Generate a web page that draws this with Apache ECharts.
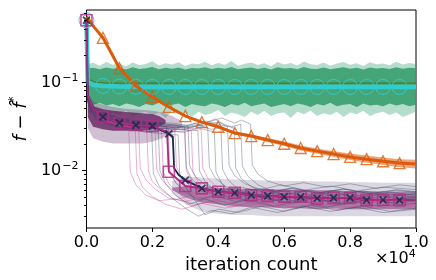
<!DOCTYPE html>
<html><head><meta charset="utf-8">
<script src="https://cdn.jsdelivr.net/npm/echarts@6/dist/echarts.min.js"></script>
<style>html,body{margin:0;padding:0;background:#fff}#c{width:436px;height:280px}</style>
</head><body><div id="c"></div>
<script>
// ---------- data (x in units of 1e4 iterations, y = f - f^*) ----------
const yMinorTicks = [0.003,0.004,0.005,0.006,0.007,0.008,0.009,0.02,0.03,0.04,0.05,0.06,0.07,0.08,0.09,0.2,0.3,0.4,0.5,0.6];
const yMajorTicks = [0.01, 0.1];

// orange (triangles)
const orangeX = [0,0.025,0.05,0.075,0.1,0.125,0.15,0.2,0.25,0.3,0.35,0.4,0.45,0.5,0.55,0.6,0.65,0.7,0.75,0.8,0.85,0.9,0.95,1.0];
const orangeY = [0.548,0.41,0.316,0.214,0.143,0.114,0.090,0.0676,0.052,0.041,0.035,0.031,0.0263,0.0243,0.0219,0.0199,0.0178,0.0164,0.0152,0.0141,0.0133,0.0126,0.012,0.0117];
const orangeBandX = [0.3,0.35,0.4,0.45,0.5,0.55,0.6,0.65,0.7,0.75,0.8,0.85,0.9,0.95,1.0];
const orangeBandHi = [0.0418,0.0358,0.0319,0.0272,0.0254,0.0231,0.0211,0.019,0.0176,0.0164,0.0154,0.0146,0.0139,0.0133,0.0131];
const orangeBandLo = [0.0402,0.0342,0.0301,0.0254,0.0233,0.0208,0.0188,0.0167,0.0153,0.0141,0.013,0.0121,0.0114,0.0108,0.0104];

// cyan mean (circles) and olive mean
const cyanX = [0,0.004,0.02,0.05,0.1,0.15,0.2,0.25,0.3,0.35,0.4,0.45,0.5,0.55,0.6,0.65,0.7,0.75,0.8,0.85,0.9,0.95,1.0];
const cyanY = [0.5,0.1,0.093,0.09,0.0885,0.088,0.0878,0.0877,0.0877,0.0876,0.0877,0.0877,0.0876,0.0877,0.0877,0.0876,0.0877,0.0877,0.0876,0.0877,0.0877,0.0876,0.0877];
const oliveY = [0.5,0.11,0.1,0.098,0.097,0.0968,0.0966,0.0965,0.0966,0.0964,0.0965,0.0966,0.0964,0.0965,0.0966,0.0964,0.0965,0.0966,0.0964,0.0965,0.0966,0.0964,0.0965];

// green noisy band
const gX = [0.004,0.02,0.04,0.06,0.08,0.1,0.12,0.14,0.16,0.18,
  0.2,0.22,0.24,0.26,0.28,0.3,0.32,0.34,0.36,0.38,
  0.4,0.42,0.44,0.46,0.48,0.5,0.52,0.54,0.56,0.58,
  0.6,0.62,0.64,0.66,0.68,0.7,0.72,0.74,0.76,0.78,
  0.8,0.82,0.84,0.86,0.88,0.9,0.92,0.94,0.96,0.98,1.0];
const gUpOuter = [0.158,0.165,0.152,0.168,0.156,0.162,0.150,0.166,0.155,0.160,
  0.171,0.153,0.163,0.157,0.167,0.151,0.162,0.158,0.169,0.154,
  0.164,0.156,0.172,0.152,0.161,0.166,0.155,0.163,0.150,0.168,
  0.157,0.164,0.153,0.170,0.159,0.155,0.166,0.152,0.162,0.168,
  0.156,0.163,0.151,0.167,0.158,0.162,0.154,0.169,0.157,0.164,0.160];
const gUpCore = [0.142,0.145,0.139,0.146,0.141,0.144,0.138,0.147,0.140,0.143,
  0.148,0.139,0.145,0.141,0.146,0.138,0.144,0.142,0.147,0.140,
  0.145,0.141,0.148,0.139,0.143,0.146,0.140,0.145,0.138,0.147,
  0.142,0.144,0.139,0.148,0.141,0.140,0.146,0.139,0.143,0.147,
  0.141,0.145,0.138,0.146,0.142,0.144,0.140,0.147,0.141,0.145,0.143];
const gLoCore = [0.057,0.055,0.058,0.054,0.056,0.053,0.057,0.055,0.052,0.056,
  0.054,0.058,0.053,0.055,0.057,0.052,0.056,0.054,0.053,0.057,
  0.055,0.052,0.056,0.054,0.058,0.053,0.055,0.057,0.052,0.054,
  0.056,0.053,0.057,0.055,0.052,0.056,0.054,0.058,0.053,0.055,
  0.056,0.052,0.057,0.054,0.055,0.053,0.057,0.054,0.056,0.053,0.055];
const gLoOuter = [0.046,0.043,0.048,0.041,0.045,0.042,0.047,0.040,0.044,0.046,
  0.041,0.045,0.039,0.047,0.043,0.045,0.040,0.046,0.042,0.044,
  0.048,0.041,0.045,0.043,0.040,0.046,0.042,0.047,0.041,0.044,
  0.045,0.039,0.046,0.043,0.047,0.041,0.044,0.042,0.046,0.040,
  0.045,0.043,0.047,0.041,0.044,0.046,0.042,0.045,0.040,0.043,0.046];

// magenta mean (squares) and navy mean (x)
const magX = [0,0.004,0.02,0.05,0.1,0.15,0.2,0.245,0.25,0.3,0.35,0.4,0.45,0.5,0.55,0.6,0.65,0.7,0.75,0.8,0.85,0.9,0.95,1.0];
const magY = [0.5,0.07,0.05,0.040,0.0342,0.0324,0.0316,0.027,0.00957,0.0066,0.0062,0.00567,0.00552,0.0052,0.0051,0.00498,0.00498,0.00477,0.00484,0.00484,0.00456,0.0046,0.00456,0.0046];
const navX = [0,0.004,0.02,0.05,0.1,0.15,0.2,0.25,0.262,0.266,0.28,0.3,0.35,0.4,0.45,0.5,0.55,0.6,0.65,0.7,0.75,0.8,0.85,0.9,0.95,1.0];
const navY = [0.5,0.07,0.05,0.040,0.0342,0.0324,0.0316,0.0257,0.024,0.0105,0.0088,0.0077,0.0062,0.00567,0.00552,0.0052,0.0051,0.00498,0.00498,0.00477,0.00484,0.00484,0.00456,0.0046,0.00456,0.0046];

// purple bundle: before the drop
const preX1 = [0.004,0.02,0.05,0.08,0.11,0.14,0.17,0.2,0.22,0.24];
const preCoreHi = [0.062,0.053,0.049,0.047,0.046,0.045,0.044,0.043,0.041,0.037];
const preCoreLo = [0.040,0.031,0.029,0.028,0.028,0.028,0.028,0.029,0.031,0.034];
const preX2 = [0.004,0.02,0.05,0.08,0.11,0.14,0.17,0.2,0.23,0.26,0.29];
const preFringeHi = [0.075,0.06,0.055,0.052,0.05,0.049,0.048,0.047,0.045,0.041,0.036];
const preFringeLo = [0.030,0.023,0.021,0.020,0.020,0.020,0.020,0.021,0.023,0.026,0.031];
// after the drop
const postX = [0.26,0.3,0.35,0.4,0.45,0.5,0.55,0.6,0.65,0.7,0.75,0.8,0.85,0.9,0.95,1.0];
const postCoreHi = [0.0063,0.0066,0.0065,0.0063,0.0062,0.0061,0.0061,0.006,0.006,0.0059,0.0059,0.0058,0.0058,0.0057,0.0057,0.0057];
const postCoreLo = [0.006,0.0049,0.0043,0.0041,0.0039,0.0038,0.0038,0.0037,0.0037,0.0036,0.0037,0.0036,0.0036,0.0036,0.0036,0.0036];
const postFringeHi = [0.0075,0.0085,0.0082,0.008,0.0078,0.0077,0.0076,0.0075,0.0075,0.0074,0.0074,0.0073,0.0073,0.0072,0.0072,0.0072];
const postFringeLo = [0.0055,0.0041,0.0034,0.0032,0.0031,0.0031,0.003,0.003,0.003,0.003,0.003,0.003,0.003,0.003,0.003,0.003];

// individual runs (pink)
const pinkRun1 = [[0,0.5],[0.004,0.065],[0.03,0.043],[0.07,0.036],[0.1,0.033],[0.128,0.031],[0.133,0.0095],[0.15,0.0068],[0.18,0.0052],[0.22,0.0045],[0.27,0.0047],[0.33,0.0041],[0.4,0.0045],[0.48,0.0039],[0.56,0.0043],[0.64,0.0037],[0.72,0.0042],[0.8,0.0038],[0.88,0.0044],[0.95,0.0039],[1,0.0041]];
const pinkRun2 = [[0,0.5],[0.004,0.07],[0.03,0.047],[0.07,0.04],[0.12,0.035],[0.158,0.033],[0.163,0.0105],[0.18,0.0078],[0.21,0.006],[0.25,0.0048],[0.3,0.0044],[0.36,0.005],[0.43,0.0042],[0.5,0.0047],[0.58,0.0041],[0.66,0.0046],[0.74,0.004],[0.82,0.0045],[0.9,0.0041],[1,0.0044]];
const pinkRun3 = [[0,0.5],[0.004,0.06],[0.03,0.038],[0.08,0.032],[0.13,0.029],[0.183,0.027],[0.188,0.0098],[0.2,0.0074],[0.23,0.0058],[0.27,0.0046],[0.32,0.0052],[0.38,0.0045],[0.45,0.0051],[0.53,0.0044],[0.61,0.0049],[0.69,0.0042],[0.77,0.0048],[0.85,0.0043],[0.93,0.0047],[1,0.0044]];
const pinkRun4 = [[0,0.5],[0.004,0.068],[0.03,0.044],[0.08,0.037],[0.14,0.033],[0.208,0.031],[0.213,0.0102],[0.23,0.0076],[0.26,0.006],[0.3,0.0053],[0.35,0.0058],[0.42,0.0049],[0.5,0.0055],[0.58,0.0047],[0.66,0.0052],[0.74,0.0046],[0.82,0.0051],[0.9,0.0045],[1,0.0049]];
const pinkRun5 = [[0,0.5],[0.004,0.062],[0.03,0.041],[0.08,0.034],[0.15,0.03],[0.228,0.028],[0.233,0.0095],[0.25,0.007],[0.28,0.0055],[0.32,0.0039],[0.37,0.0044],[0.44,0.0038],[0.52,0.0043],[0.6,0.0037],[0.68,0.0041],[0.76,0.0036],[0.84,0.004],[0.92,0.0037],[1,0.0039]];
const pinkRun6 = [[0,0.5],[0.004,0.07],[0.03,0.046],[0.09,0.038],[0.16,0.034],[0.22,0.032],[0.268,0.03],[0.273,0.0108],[0.29,0.008],[0.32,0.0064],[0.37,0.0055],[0.43,0.0061],[0.5,0.0053],[0.58,0.0058],[0.66,0.005],[0.74,0.0056],[0.82,0.0049],[0.9,0.0054],[1,0.005]];
const pinkRun7 = [[0,0.5],[0.004,0.064],[0.03,0.04],[0.09,0.033],[0.17,0.029],[0.24,0.028],[0.298,0.027],[0.303,0.0098],[0.32,0.0075],[0.35,0.006],[0.4,0.0048],[0.46,0.0053],[0.53,0.0045],[0.61,0.005],[0.69,0.0043],[0.77,0.0049],[0.85,0.0044],[0.93,0.0048],[1,0.0045]];
const pinkRun8 = [[0,0.5],[0.004,0.066],[0.03,0.043],[0.1,0.036],[0.18,0.032],[0.26,0.031],[0.348,0.029],[0.353,0.0105],[0.37,0.0079],[0.4,0.0062],[0.45,0.0051],[0.51,0.0057],[0.58,0.0049],[0.66,0.0054],[0.74,0.0047],[0.82,0.0053],[0.9,0.0046],[1,0.005]];
const pinkRun9 = [[0,0.5],[0.004,0.063],[0.03,0.042],[0.07,0.035],[0.11,0.032],[0.148,0.03],[0.153,0.0092],[0.17,0.0064],[0.2,0.005],[0.24,0.0041],[0.29,0.0036],[0.35,0.0042],[0.42,0.0037],[0.5,0.0043],[0.58,0.0038],[0.66,0.0044],[0.74,0.0039],[0.82,0.0043],[0.9,0.0038],[1,0.0042]];
const pinkRun10 = [[0,0.5],[0.004,0.067],[0.03,0.045],[0.09,0.037],[0.16,0.033],[0.248,0.03],[0.253,0.0098],[0.27,0.0073],[0.3,0.0058],[0.35,0.0047],[0.41,0.0053],[0.48,0.0045],[0.56,0.0051],[0.64,0.0044],[0.72,0.005],[0.8,0.0043],[0.88,0.0049],[0.95,0.0044],[1,0.0046]];
const pinkRun11 = [[0,0.5],[0.004,0.061],[0.03,0.04],[0.1,0.033],[0.18,0.03],[0.26,0.029],[0.318,0.028],[0.323,0.0096],[0.34,0.0072],[0.37,0.0057],[0.42,0.0046],[0.48,0.0052],[0.55,0.0044],[0.63,0.005],[0.71,0.0043],[0.79,0.0049],[0.87,0.0043],[0.95,0.0048],[1,0.0045]];
// individual runs (navy-grey)
const greyRun1 = [[0,0.5],[0.004,0.06],[0.03,0.039],[0.08,0.032],[0.14,0.029],[0.198,0.027],[0.203,0.0092],[0.22,0.0066],[0.26,0.0048],[0.3,0.0037],[0.34,0.003],[0.38,0.0035],[0.44,0.0032],[0.5,0.0038],[0.58,0.0033],[0.66,0.0039],[0.74,0.0034],[0.82,0.0038],[0.9,0.0033],[1,0.0036]];
const greyRun2 = [[0,0.5],[0.004,0.068],[0.03,0.045],[0.09,0.037],[0.16,0.033],[0.243,0.031],[0.248,0.0102],[0.27,0.0072],[0.3,0.0056],[0.34,0.0046],[0.39,0.0052],[0.45,0.0044],[0.52,0.005],[0.6,0.0043],[0.68,0.0049],[0.76,0.0042],[0.84,0.0048],[0.92,0.0043],[1,0.0046]];
const greyRun3 = [[0,0.5],[0.004,0.058],[0.03,0.037],[0.1,0.03],[0.18,0.027],[0.278,0.025],[0.283,0.009],[0.3,0.0065],[0.33,0.0045],[0.36,0.0031],[0.4,0.0036],[0.46,0.0033],[0.53,0.0039],[0.6,0.0034],[0.68,0.004],[0.76,0.0035],[0.84,0.0039],[0.92,0.0034],[1,0.0037]];
const greyRun4 = [[0,0.5],[0.004,0.07],[0.03,0.047],[0.1,0.039],[0.19,0.035],[0.26,0.034],[0.308,0.032],[0.313,0.0112],[0.33,0.0085],[0.36,0.0068],[0.41,0.0058],[0.47,0.0064],[0.54,0.0056],[0.62,0.0062],[0.7,0.0055],[0.78,0.0061],[0.86,0.0054],[0.94,0.0059],[1,0.0056]];
const greyRun5 = [[0,0.5],[0.004,0.063],[0.03,0.041],[0.1,0.034],[0.2,0.03],[0.28,0.029],[0.338,0.028],[0.343,0.0098],[0.36,0.0074],[0.39,0.0058],[0.44,0.0047],[0.5,0.0053],[0.57,0.0045],[0.65,0.0051],[0.73,0.0044],[0.81,0.005],[0.89,0.0045],[1,0.0048]];
const greyRun6 = [[0,0.5],[0.004,0.066],[0.03,0.044],[0.1,0.036],[0.2,0.033],[0.3,0.031],[0.33,0.034],[0.368,0.03],[0.373,0.0108],[0.39,0.0082],[0.42,0.0066],[0.47,0.0055],[0.53,0.0062],[0.6,0.0053],[0.68,0.0059],[0.76,0.0051],[0.84,0.0058],[0.92,0.005],[1,0.0054]];
const greyRun7 = [[0,0.5],[0.004,0.06],[0.03,0.038],[0.1,0.031],[0.2,0.028],[0.3,0.027],[0.34,0.03],[0.388,0.027],[0.393,0.0095],[0.41,0.0071],[0.44,0.0055],[0.49,0.0043],[0.55,0.0049],[0.62,0.0042],[0.7,0.0048],[0.78,0.0041],[0.86,0.0047],[0.94,0.0042],[1,0.0045]];
const greyRun8 = [[0,0.5],[0.004,0.069],[0.03,0.046],[0.1,0.038],[0.2,0.034],[0.3,0.032],[0.36,0.036],[0.4,0.033],[0.428,0.031],[0.433,0.0112],[0.45,0.0086],[0.48,0.007],[0.53,0.006],[0.59,0.0068],[0.66,0.0059],[0.74,0.0066],[0.82,0.0058],[0.9,0.0064],[1,0.006]];
const greyRun9 = [[0,0.5],[0.004,0.064],[0.03,0.042],[0.1,0.035],[0.2,0.031],[0.3,0.03],[0.35,0.033],[0.39,0.038],[0.42,0.032],[0.448,0.03],[0.453,0.0105],[0.47,0.008],[0.5,0.0065],[0.55,0.0054],[0.61,0.006],[0.68,0.0052],[0.76,0.0058],[0.84,0.005],[0.92,0.0056],[1,0.0052]];
const greyRun10 = [[0,0.5],[0.004,0.067],[0.03,0.045],[0.1,0.037],[0.2,0.033],[0.3,0.031],[0.36,0.034],[0.41,0.039],[0.45,0.034],[0.47,0.037],[0.498,0.033],[0.503,0.0115],[0.52,0.009],[0.55,0.0075],[0.6,0.0066],[0.66,0.0072],[0.73,0.0064],[0.8,0.007],[0.88,0.0062],[0.95,0.0068],[1,0.0065]];
const greyRun11 = [[0,0.5],[0.004,0.065],[0.03,0.043],[0.09,0.035],[0.15,0.031],[0.218,0.029],[0.223,0.0098],[0.24,0.007],[0.27,0.0052],[0.31,0.0041],[0.36,0.0047],[0.42,0.004],[0.49,0.0046],[0.57,0.0039],[0.65,0.0045],[0.73,0.0038],[0.81,0.0044],[0.89,0.0039],[1,0.0042]];
const greyRun12 = [[0,0.5],[0.004,0.069],[0.03,0.046],[0.1,0.038],[0.18,0.034],[0.25,0.033],[0.298,0.031],[0.303,0.0106],[0.32,0.0079],[0.35,0.0062],[0.4,0.0051],[0.46,0.0057],[0.53,0.0049],[0.61,0.0055],[0.69,0.0048],[0.77,0.0054],[0.85,0.0047],[0.93,0.0053],[1,0.0049]];
const greyRun13 = [[0,0.5],[0.004,0.062],[0.03,0.04],[0.1,0.033],[0.2,0.03],[0.3,0.029],[0.34,0.032],[0.38,0.029],[0.408,0.03],[0.413,0.0102],[0.43,0.0077],[0.46,0.0061],[0.51,0.0049],[0.57,0.0055],[0.64,0.0047],[0.72,0.0053],[0.8,0.0046],[0.88,0.0052],[0.95,0.0047],[1,0.005]];
const greyRun14 = [[0,0.5],[0.004,0.066],[0.03,0.044],[0.1,0.036],[0.2,0.032],[0.3,0.03],[0.35,0.032],[0.4,0.035],[0.44,0.031],[0.468,0.033],[0.473,0.011],[0.49,0.0085],[0.52,0.0068],[0.57,0.0057],[0.63,0.0063],[0.7,0.0055],[0.78,0.0061],[0.86,0.0054],[0.94,0.006],[1,0.0057]];

const pinkRuns = [pinkRun1,pinkRun2,pinkRun3,pinkRun4,pinkRun5,pinkRun6,pinkRun7,pinkRun8,pinkRun9,pinkRun10,pinkRun11];
const greyRuns = [greyRun1,greyRun2,greyRun3,greyRun4,greyRun5,greyRun6,greyRun7,greyRun8,greyRun9,greyRun10,greyRun11,greyRun12,greyRun13,greyRun14];

// ---------- styles ----------
const FONT = 'DejaVu Sans';
const C_ORANGE = '#dc5a0a', C_CYAN = '#33cccc', C_GREEN = 'rgb(52,158,108)', C_OLIVE = 'rgb(80,120,25)';
const C_MAG = '#b02a84', C_NAVY = '#17264a';

const pairs = (xs, ys) => xs.map((x, i) => [x, ys[i]]);
const isMark = x => Math.abs(x * 20 - Math.round(x * 20)) < 1e-9 && x < 0.999;
const marks = (xs, ys, from) => pairs(xs, ys).filter(p => isMark(p[0]) && p[0] >= from);

// filled band between lo and hi, drawn as one polygon through the axis scales
function band(xs, lo, hi, color, opacity, z) {
  return {type:'custom', silent:true, z:z, clip:true,
    data: xs.map((x, i) => [x, lo[i], hi[i]]),
    encode:{x:0, y:[1,2]},
    renderItem: (params, api) => {
      if (params.dataIndexInside !== 0) return null;
      const n = params.dataInsideLength;
      const top = [], bot = [];
      for (let i = 0; i < n; i++) {
        top.push(api.coord([api.value(0, i), api.value(2, i)]));
        bot.push(api.coord([api.value(0, i), api.value(1, i)]));
      }
      return {type:'polygon', shape:{points: top.concat(bot.reverse())},
        style:{fill:color, opacity:opacity}};
    }};
}
function tickSeries(vals, len) {
  return {type:'custom', clip:false, silent:true, z:20, data: vals.map(v => [0, v]),
    renderItem: (params, api) => {
      const p = api.coord([0, api.value(1)]);
      const y = Math.round(p[1]) + 0.5;
      return {type:'line', shape:{x1:p[0] - len, y1:y, x2:p[0], y2:y}, style:{stroke:'#000', lineWidth:1}};
    }};
}

const series = [];
// green noisy band
series.push(band(gX, gLoOuter, gUpOuter, 'rgb(60,165,120)', 0.38, 1));
series.push(band(gX, gLoCore, gUpCore, C_GREEN, 0.88, 1));
series.push({type:'line', data: pairs(cyanX, oliveY), symbol:'none', lineStyle:{color:C_OLIVE, width:1.5, opacity:0.8}, z:2});
// purple bundle
series.push(band(preX2, preFringeLo, preFringeHi, 'rgb(100,50,105)', 0.3, 3));
series.push(band(preX1, preCoreLo, preCoreHi, 'rgb(95,25,90)', 0.75, 3));
series.push(band(postX, postFringeLo, postFringeHi, 'rgb(110,95,135)', 0.25, 3));
series.push(band(postX, postCoreLo, postCoreHi, 'rgb(110,45,105)', 0.5, 3));
pinkRuns.forEach(r => series.push({type:'line', data:r, symbol:'none', lineStyle:{color:'rgba(205,70,150,0.42)', width:1}, z:4}));
greyRuns.forEach(r => series.push({type:'line', data:r, symbol:'none', lineStyle:{color:'rgba(45,65,95,0.36)', width:1}, z:4}));
// cyan mean
series.push({type:'line', data: pairs(cyanX, cyanY), symbol:'none', lineStyle:{color:C_CYAN, width:4.5}, z:5});
// orange
series.push(band(orangeBandX, orangeBandLo, orangeBandHi, C_ORANGE, 0.55, 6));
series.push({type:'line', data: pairs(orangeX, orangeY), symbol:'none', lineStyle:{color:C_ORANGE, width:3}, z:6});
// navy & magenta means
series.push({type:'line', data: pairs(navX, navY), symbol:'none', lineStyle:{color:C_NAVY, width:1.8}, z:7});
series.push({type:'line', data: pairs(magX, magY), symbol:'none', lineStyle:{color:C_MAG, width:1.8}, z:7});
// markers
series.push({type:'scatter', data: marks(cyanX, cyanY, 0), symbol:'circle', symbolSize:15,
  itemStyle:{color:'none', borderColor:C_CYAN, borderWidth:1, opacity:0.9}, z:8});
series.push({type:'scatter', data: marks(orangeX, orangeY, 0.05), symbol:'triangle', symbolSize:11,
  itemStyle:{color:'none', borderColor:C_ORANGE, borderWidth:1.3}, z:9});
series.push({type:'scatter', data: marks(magX, magY, 0), symbol:'rect', symbolSize:11,
  itemStyle:{color:'none', borderColor:C_MAG, borderWidth:1.6}, z:9});
series.push({type:'scatter', data: marks(navX, navY, 0), symbol:'path://M0 0L10 10M10 0L0 10', symbolSize:7,
  itemStyle:{color:'none', borderColor:C_NAVY, borderWidth:1.8}, z:10});
// y ticks
series.push(tickSeries(yMajorTicks, 4.5));
series.push(tickSeries(yMinorTicks, 2.5));

const chart = echarts.init(document.getElementById('c'), null, {renderer:'canvas'});
chart.setOption({
  animation:false,
  backgroundColor:'#fff',
  grid:{left:81, right:20, top:10, bottom:52, show:true, borderColor:'#000', borderWidth:1, backgroundColor:'transparent'},
  xAxis:{type:'value', min:0, max:1, interval:0.2,
    axisLine:{show:false}, splitLine:{show:false},
    axisTick:{show:true, length:4, lineStyle:{color:'#000', width:1}},
    axisLabel:{formatter: v => v.toFixed(1), fontFamily:FONT, fontSize:16, color:'#000', margin:7},
    name:'iteration count', nameLocation:'middle', nameGap:24,
    nameTextStyle:{fontFamily:FONT, fontSize:18, color:'#000'}},
  yAxis:{type:'log', logBase:10, min:0.002204, max:0.6535,
    axisLine:{show:false}, axisTick:{show:false}, splitLine:{show:false}, minorTick:{show:false},
    axisLabel:{showMinLabel:false, showMaxLabel:false, margin:8, color:'#000',
      formatter: v => {
        const l = Math.log10(v); const e = Math.round(l);
        if (Math.abs(l - e) > 1e-6) return '';
        return '{b|10}{s|' + (e < 0 ? '\u2212' : '') + Math.abs(e) + '}';
      },
      rich:{b:{fontFamily:FONT, fontSize:16, color:'#000', lineHeight:18, verticalAlign:'bottom'},
            s:{fontFamily:FONT, fontSize:11, color:'#000', lineHeight:10, verticalAlign:'top', padding:[0,0,0,1]}}},
    name:'{i|f}{m| \u2212 }{i|f\u0302}{s|*}', nameLocation:'middle', nameGap:46, nameRotate:90,
    nameTextStyle:{fontFamily:FONT, fontSize:18, color:'#000',
      rich:{i:{fontFamily:FONT, fontStyle:'italic', fontSize:18, color:'#000', lineHeight:22, verticalAlign:'bottom'},
            m:{fontFamily:FONT, fontSize:18, color:'#000', lineHeight:22, verticalAlign:'bottom'},
            s:{fontFamily:FONT, fontSize:12, color:'#000', lineHeight:12, verticalAlign:'top'}}}},
  graphic:[{type:'text', left:375, top:249, silent:true,
    style:{text:'{a|\u00d710}{s|4}', rich:{a:{fontFamily:FONT, fontSize:16, fill:'#000', lineHeight:18, verticalAlign:'bottom'},
      s:{fontFamily:FONT, fontSize:11, fill:'#000', lineHeight:10, verticalAlign:'top'}}}}],
  series: series
});
</script></body></html>
